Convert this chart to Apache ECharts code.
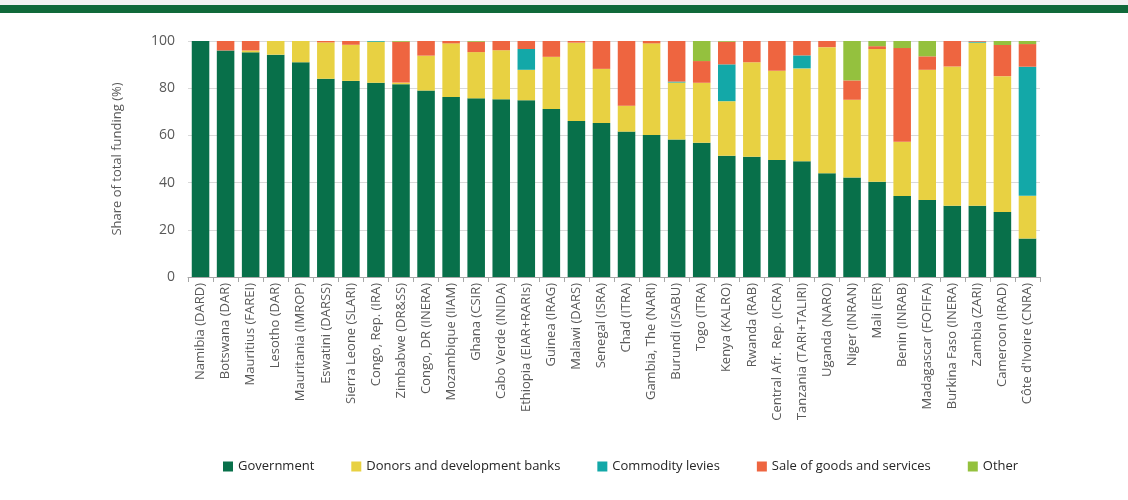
<!DOCTYPE html>
<html>
<head>
<meta charset="utf-8">
<script src="https://cdn.jsdelivr.net/npm/echarts@6/dist/echarts.min.js"></script>
<style>
  html, body { margin: 0; padding: 0; background: #fff; }
  #chart { width: 1128px; height: 500px; }
</style>
</head>
<body>
<div id="chart"></div>
<script>
// categories (institutes), ordered by government share
const countries = ['Namibia (DARD)', 'Botswana (DAR)', 'Mauritius (FAREI)', 'Lesotho (DAR)', 'Mauritania (IMROP)',
  'Eswatini (DARSS)', 'Sierra Leone (SLARI)', 'Congo, Rep. (IRA)', 'Zimbabwe (DR&SS)', 'Congo, DR (INERA)',
  'Mozambique (IIAM)', 'Ghana (CSIR)', 'Cabo Verde (INIDA)', 'Ethiopia (EIAR+RARIs)', 'Guinea (IRAG)',
  'Malawi (DARS)', 'Senegal (ISRA)', 'Chad (ITRA)', 'Gambia, The (NARI)', 'Burundi (ISABU)', 'Togo (ITRA)',
  'Kenya (KALRO)', 'Rwanda (RAB)', 'Central Afr. Rep. (ICRA)', 'Tanzania (TARI+TALIRI)', 'Uganda (NARO)',
  'Niger (INRAN)', 'Mali (IER)', 'Benin (INRAB)', 'Madagascar (FOFIFA)', 'Burkina Faso (INERA)',
  'Zambia (ZARI)', 'Cameroon (IRAD)', "Côte d'Ivoire (CNRA)"]

// share of total funding (%)
const government = [100, 96, 95.2, 94.2, 91, 84, 83.1, 82.3, 81.7, 79, 76.3, 75.7, 75.3, 74.9, 71.2, 66.1, 65.3,
  61.6, 60.2, 58.3, 56.9, 51.4, 51, 49.6, 49, 44, 42.2, 40.4, 34.3, 32.6, 30.2, 30.2, 27.5, 16.3]
const donors = [0, 0, 0.8, 5.8, 9, 15.4, 15.3, 17.4, 0.7, 14.8, 22.7, 19.6, 20.8, 12.9, 22.1, 33.2, 22.9,
  11, 38.8, 24.1, 25.4, 23.1, 40, 37.8, 39.4, 53.4, 32.9, 56.2, 23, 55.2, 59, 69.1, 57.6, 18.1]
const levies = [0, 0, 0, 0, 0, 0, 0, 0.3, 0, 0, 0, 0, 0, 8.8, 0, 0, 0,
  0, 0, 0.4, 0, 15.6, 0, 0, 5.5, 0, 0, 0, 0, 0, 0, 0.4, 0, 54.7]
const sales = [0, 4, 4, 0, 0, 0.6, 1.6, 0, 17.3, 6.2, 1, 4.4, 3.9, 3.4, 6.7, 0.7, 11.8,
  27.4, 1, 17.2, 9.2, 9.6, 9, 12.6, 6.1, 2.6, 8.2, 1.2, 39.7, 5.7, 10.8, 0.3, 13.2, 9.6]
const other = [0, 0, 0, 0, 0, 0, 0, 0, 0.3, 0, 0, 0.3, 0, 0, 0, 0, 0,
  0, 0, 0, 8.5, 0.3, 0, 0, 0, 0, 16.7, 2.2, 3, 6.5, 0, 0, 1.7, 1.3]

const yTicks = [0, 20, 40, 60, 80, 100]

const font = '"Open Sans", sans-serif'
const grey = '#595959'

let chart = echarts.init(document.getElementById('chart'), null, { renderer: 'canvas' })

function bar(name, data, color) {
  return {
    name: name,
    type: 'bar',
    stack: 'total',
    data: data,
    barCategoryGap: '30%',
    itemStyle: { color: color },
    emphasis: { disabled: true }
  }
}

let option = {
  backgroundColor: '#fff',
  animation: false,
  graphic: [
    // header bands
    { type: 'rect', shape: { x: 0, y: 0, width: 1128, height: 5 }, style: { fill: '#f2f2f2' } },
    { type: 'rect', shape: { x: 0, y: 5, width: 1128, height: 8 }, style: { fill: '#10693a' } }
  ],
  grid: { left: 188, right: 88, top: 41, bottom: 223 },
  legend: {
    left: 218,
    top: 455,
    itemWidth: 10,
    itemHeight: 10,
    itemGap: 37,
    icon: 'rect',
    textStyle: { fontFamily: font, fontSize: 13, color: '#262626' },
    data: ['Government', 'Donors and development banks', 'Commodity levies', 'Sale of goods and services', 'Other']
  },
  xAxis: {
    type: 'category',
    data: countries,
    axisLine: { lineStyle: { color: '#a6a6a6' } },
    axisTick: { show: true, length: 5, lineStyle: { color: '#a6a6a6' } },
    axisLabel: { rotate: 90, interval: 0, fontFamily: font, fontSize: 13, color: grey, margin: 6 }
  },
  yAxis: {
    type: 'value',
    min: yTicks[0],
    max: yTicks[yTicks.length - 1],
    interval: yTicks[1] - yTicks[0],
    name: 'Share of total funding (%)',
    nameLocation: 'middle',
    nameGap: 64,
    nameTextStyle: { fontFamily: font, fontSize: 13, color: grey },
    axisLine: { show: false },
    axisTick: { show: false },
    splitLine: { lineStyle: { color: '#d9d9d9' } },
    axisLabel: { fontFamily: font, fontSize: 14, color: grey, margin: 13 }
  },
  series: [
    bar('Government', government, '#08704a'),
    bar('Donors and development banks', donors, '#e8d142'),
    bar('Commodity levies', levies, '#13a8a8'),
    bar('Sale of goods and services', sales, '#ee6540'),
    bar('Other', other, '#94c13e')
  ]
}

chart.setOption(option)
</script>
</body>
</html>
